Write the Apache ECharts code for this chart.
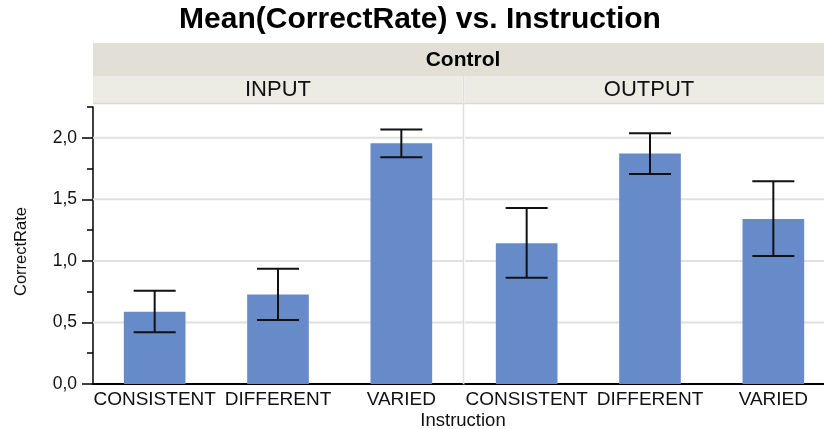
<!DOCTYPE html>
<html>
<head>
<meta charset="utf-8">
<script src="https://cdn.jsdelivr.net/npm/echarts@6/dist/echarts.min.js"></script>
<style>
html,body{margin:0;padding:0;background:#fff;overflow:hidden;width:824px;height:429px;}
#chart{width:840px;height:429px;}
</style>
</head>
<body>
<div id="chart"></div>
<script>
// ---- data ----
var titleText = 'Mean(CorrectRate) vs. Instruction';
var groupLabel = 'Control';
var panels = ['INPUT', 'OUTPUT'];
var categories = ['CONSISTENT', 'DIFFERENT', 'VARIED'];
var inputMeans = [0.587, 0.728, 1.955];
var inputLow = [0.420, 0.520, 1.841];
var inputHigh = [0.758, 0.936, 2.068];
var outputMeans = [1.143, 1.873, 1.340];
var outputLow = [0.863, 1.705, 1.039];
var outputHigh = [1.429, 2.036, 1.646];
var yMajorTicks = [0, 0.5, 1.0, 1.5, 2.0];
var yMinorTicks = [0.25, 0.75, 1.25, 1.75, 2.25];
var gridValues = [0.5, 1.0, 1.5, 2.0];
var yMax = 2.25;
var yTitle = 'CorrectRate';
var xTitle = 'Instruction';

// ---- style ----
var FONT = 'Liberation Sans, Arial, Helvetica, sans-serif';
var BAR = '#678bc9';
var GRID_TOP = 107, GRID_H = 277;
var P1_LEFT = 93, P2_LEFT = 465, P_W = 370;

var chart = echarts.init(document.getElementById('chart'), null, {renderer: 'canvas'});

function fmt(v) { return v.toFixed(1).replace('.', ','); }

function errRender(params, api) {
  var x = api.value(0);
  var lo = api.coord([x, api.value(1)]);
  var hi = api.coord([x, api.value(2)]);
  var hw = 21;
  var st = {stroke: '#111', lineWidth: 2};
  return {
    type: 'group',
    children: [
      {type: 'line', shape: {x1: lo[0], y1: lo[1], x2: hi[0], y2: hi[1]}, style: st},
      {type: 'line', shape: {x1: lo[0] - hw, y1: lo[1], x2: lo[0] + hw, y2: lo[1]}, style: st},
      {type: 'line', shape: {x1: hi[0] - hw, y1: hi[1], x2: hi[0] + hw, y2: hi[1]}, style: st}
    ]
  };
}

function gridRender(params, api) {
  var cs = params.coordSys;
  var y = api.coord([0, api.value(1)])[1];
  return {type: 'line', shape: {x1: cs.x, y1: y, x2: cs.x + cs.width, y2: y},
          style: {stroke: '#e0e0e0', lineWidth: 2}};
}

function yAxisMain(gridIndex, showLabels) {
  return {
    type: 'value', gridIndex: gridIndex, min: 0, max: yMax,
    axisLine: {show: showLabels, lineStyle: {color: '#000', width: 1.5}},
    axisTick: {show: showLabels, length: 11, customValues: yMajorTicks, lineStyle: {color: '#000', width: 1.5}},
    axisLabel: {show: showLabels, customValues: yMajorTicks, formatter: fmt, margin: 16,
                fontSize: 17.5, color: '#111', fontFamily: FONT},
    splitLine: {show: false}
  };
}

var option = {
  animation: false,
  backgroundColor: '#fff',
  grid: [
    {left: P1_LEFT, top: GRID_TOP, width: P_W, height: GRID_H},
    {left: P2_LEFT, top: GRID_TOP, width: P_W, height: GRID_H}
  ],
  xAxis: [0, 1].map(function (g) {
    return {
      type: 'category', gridIndex: g, data: categories,
      axisLine: {lineStyle: {color: '#000', width: 2}},
      axisTick: {show: false},
      axisLabel: {fontSize: 19, color: '#111', fontFamily: FONT, margin: 6, interval: 0}
    };
  }),
  yAxis: [
    yAxisMain(0, true),
    yAxisMain(1, false),
    {
      type: 'value', gridIndex: 0, min: 0, max: yMax, position: 'left',
      axisLine: {show: false},
      axisTick: {show: true, length: 6, customValues: yMinorTicks, lineStyle: {color: '#000', width: 1.5}},
      axisLabel: {show: false},
      splitLine: {show: false}
    }
  ],
  graphic: [
    {type: 'text', x: 420, y: 20, style: {text: titleText,
      font: 'bold 30px ' + FONT, fill: '#000', textAlign: 'center', textVerticalAlign: 'middle'}},
    {type: 'rect', shape: {x: 93, y: 43, width: 742, height: 33}, style: {fill: '#e2e0d6'}, z: 0},
    {type: 'rect', shape: {x: 93, y: 76, width: 369.5, height: 28}, style: {fill: '#ecebe4'}, z: 0},
    {type: 'rect', shape: {x: 464.5, y: 76, width: 371, height: 28}, style: {fill: '#ecebe4'}, z: 0},
    {type: 'line', shape: {x1: 93, y1: 103.5, x2: 835, y2: 103.5}, style: {stroke: '#dcdad0', lineWidth: 1.5}, z: 1},
    {type: 'line', shape: {x1: 463.5, y1: 76, x2: 463.5, y2: 384}, style: {stroke: '#dedede', lineWidth: 1.5}, z: 1},
    {type: 'text', x: 463, y: 60, style: {text: groupLabel, font: 'bold 21px ' + FONT, fill: '#000',
      textAlign: 'center', textVerticalAlign: 'middle'}, z: 2},
    {type: 'text', x: 278, y: 90, style: {text: panels[0], font: '22px ' + FONT, fill: '#111',
      textAlign: 'center', textVerticalAlign: 'middle'}, z: 2},
    {type: 'text', x: 649, y: 90, style: {text: panels[1], font: '22px ' + FONT, fill: '#111',
      textAlign: 'center', textVerticalAlign: 'middle'}, z: 2},
    {type: 'text', x: 21.5, y: 251.5, rotation: Math.PI / 2, style: {text: yTitle, font: '16.5px ' + FONT,
      fill: '#111', textAlign: 'center', textVerticalAlign: 'middle'}, z: 2},
    {type: 'text', x: 463, y: 421, style: {text: xTitle, font: '18.5px ' + FONT, fill: '#111',
      textAlign: 'center', textVerticalAlign: 'middle'}, z: 2}
  ],
  series: [
    {type: 'custom', xAxisIndex: 0, yAxisIndex: 0, renderItem: gridRender, z: 1, silent: true,
     data: gridValues.map(function (v) { return [0, v]; }), encode: {x: 0, y: 1}},
    {type: 'custom', xAxisIndex: 1, yAxisIndex: 1, renderItem: gridRender, z: 1, silent: true,
     data: gridValues.map(function (v) { return [0, v]; }), encode: {x: 0, y: 1}},
    {type: 'bar', xAxisIndex: 0, yAxisIndex: 0, data: inputMeans, barWidth: '50%', z: 2,
     itemStyle: {color: BAR}},
    {type: 'bar', xAxisIndex: 1, yAxisIndex: 1, data: outputMeans, barWidth: '50%', z: 2,
     itemStyle: {color: BAR}},
    {type: 'custom', xAxisIndex: 0, yAxisIndex: 0, renderItem: errRender, z: 3,
     data: categories.map(function (c, i) { return [i, inputLow[i], inputHigh[i]]; }), encode: {x: 0, y: [1, 2]}},
    {type: 'custom', xAxisIndex: 1, yAxisIndex: 1, renderItem: errRender, z: 3,
     data: categories.map(function (c, i) { return [i, outputLow[i], outputHigh[i]]; }), encode: {x: 0, y: [1, 2]}}
  ]
};
chart.setOption(option);
</script>
</body>
</html>
